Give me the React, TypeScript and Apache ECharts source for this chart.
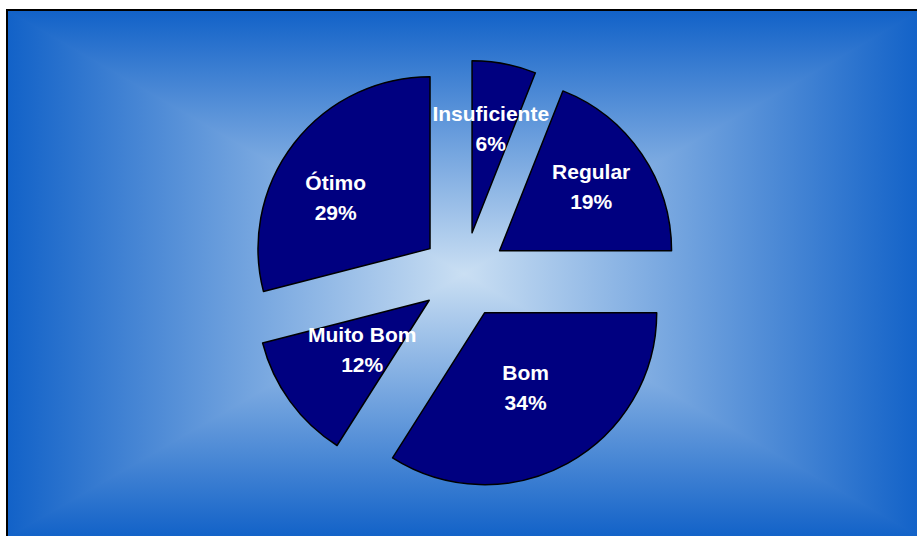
import React, { useEffect, useRef } from "react";
import * as echarts from "echarts";

const categories = ["Insuficiente", "Regular", "Bom", "Muito Bom", "Ótimo"];
const values = [6, 19, 34, 12, 29];

// label nudges (px) relative to ECharts' default inner label position
const labelNudge: Record<string, [number, number]> = {
  "Insuficiente": [2, -17],
  "Regular": [18, -14],
  "Bom": [-2, -3],
  "Muito Bom": [5, -3],
  "Ótimo": [-24, 3],
};

export default function App() {
  const ref = useRef<HTMLDivElement>(null);

  useEffect(() => {
    const chart = echarts.init(ref.current as HTMLDivElement, null, { renderer: "svg" });

    const x0 = 8, y0 = 11, x1 = 920, y1 = 537;
    const cx = (x0 + x1) / 2, cy = (y0 + y1) / 2;
    const edge = "#1262c8";
    const mid = "#cadff3";
    const grad = (ax: number, ay: number, bx: number, by: number) => ({
      type: "linear",
      x: ax, y: ay, x2: bx, y2: by,
      global: true,
      colorStops: [
        { offset: 0, color: edge },
        { offset: 1, color: mid },
      ],
    });
    const tri = (pts: number[][], g: any) => ({
      type: "polygon", z: -10, silent: true,
      shape: { points: pts },
      style: { fill: g, stroke: g, lineWidth: 1.2 },
    });

    chart.setOption({
      animation: false,
      backgroundColor: "#ffffff",
      graphic: [
        { type: "rect", z: -20, silent: true, shape: { x: x0, y: y0, width: x1 - x0, height: y1 - y0 }, style: { fill: "#7fa3e0" } },
        tri([[x0, y0], [x1, y0], [cx, cy]], grad(0, y0, 0, cy)),
        tri([[x0, y1], [x1, y1], [cx, cy]], grad(0, y1, 0, cy)),
        tri([[x0, y0], [x0, y1], [cx, cy]], grad(x0, 0, cx, 0)),
        tri([[x1, y0], [x1, y1], [cx, cy]], grad(x1, 0, cx, 0)),
        { type: "rect", z: -5, silent: true, shape: { x: 7, y: 10, width: 940, height: 560 }, style: { fill: "none", stroke: "#000000", lineWidth: 2 } },
      ],
      series: [
        {
          type: "pie",
          center: [464, 275],
          radius: 172,
          startAngle: 90,
          clockwise: true,
          selectedMode: "multiple",
          selectedOffset: 43,
          silent: true,
          avoidLabelOverlap: false,
          minShowLabelAngle: 0,
          percentPrecision: 0,
          emphasis: { disabled: true },
          itemStyle: { color: "#000080", borderColor: "#000000", borderWidth: 1.5 },
          label: {
            show: true,
            position: "inner",
            formatter: "{b}\n{d}%",
            color: "#ffffff",
            fontWeight: "bold",
            fontSize: 21,
            lineHeight: 30,
            fontFamily: "Liberation Sans, Arial, sans-serif",
          },
          labelLine: { show: false },
          labelLayout: (p: any) => {
            const n = labelNudge[categories[p.dataIndex]] || [0, 0];
            return { dx: n[0], dy: n[1], hideOverlap: false };
          },
          data: categories.map((name, i) => ({ name, value: values[i], selected: true })),
        },
      ],
    } as any);

    return () => chart.dispose();
  }, []);

  return (
    <div
      ref={ref}
      style={{ position: "absolute", left: 0, top: 0, width: 917, height: 536 }}
    />
  );
}
